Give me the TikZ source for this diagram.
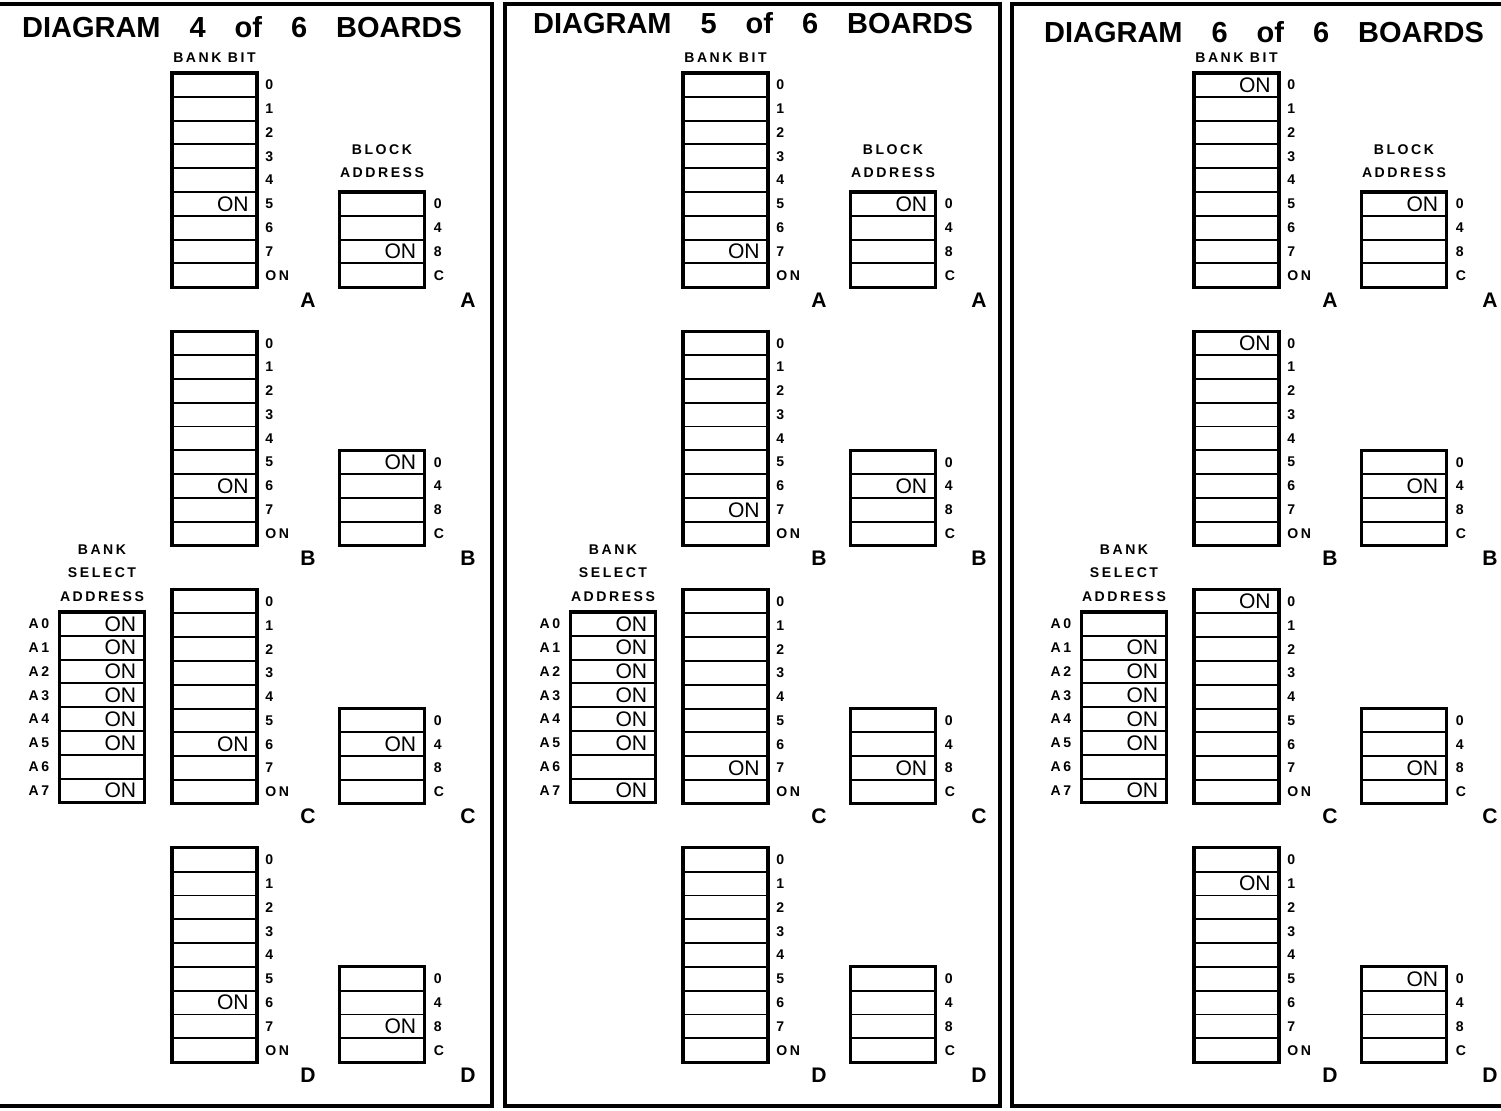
\documentclass[tikz,border=0pt]{standalone}
\usepackage{fontspec}
\setmainfont{Liberation Sans}
\newfontfamily\tagfont{Liberation Sans}[LetterSpace=18]
\usepackage{tikz}
\usetikzlibrary{positioning}

\tikzset{
  cell/.style={draw, line width=1.1pt, minimum width=17mm, minimum height=4.76mm, inner sep=0pt, outer sep=0pt},
  frame/.style={line width=1.8pt},
  panel/.style={line width=2.5pt},
  pin/.style={font=\tagfont\bfseries\fontsize{8}{8}\selectfont, inner sep=0pt},
  heading/.style={font=\tagfont\bfseries\fontsize{8}{13}\selectfont, inner sep=0pt, align=center},
  onmark/.style={anchor=east, xshift=-1.6mm, font=\fontsize{12}{12}\selectfont, inner sep=0pt},
  board/.style={font=\bfseries\fontsize{12}{12}\selectfont, inner sep=0pt},
  title/.style={font=\bfseries\fontsize{16.5}{18}\selectfont, inner sep=0pt}
}

\begin{document}
\begin{tikzpicture}[x=0.2mm, y=-0.2mm]
    \useasboundingbox (0,0) rectangle (1501,1111);
    \clip (0,0) rectangle (1501,1111);
    \fill[white] (0,0) rectangle (1501,1111);

    % panel frames
    \draw[panel] (-10,4) -- (492,4) -- (492,1106) -- (-10,1106);
    \draw[panel] (505,4) rectangle (1000,1106);
    \draw[panel] (1512,4) -- (1012,4) -- (1012,1106) -- (1512,1106);

    \foreach \p/\ty in {4/27,5/23,6/32} {
      \begin{scope}[shift={({(\p-4)*511},0)}]
        % title and headings
        \node[title] (t\p) at (242,\ty) {DIAGRAM\quad \p\quad of\quad 6\quad BOARDS};
        \node[heading] (hb\p) at (214.5,58) {BANK BIT};
        \node[heading] (hk\p) at (382,161.5) {BLOCK\\ADDRESS};
        \node[heading, font=\tagfont\bfseries\fontsize{8}{13.4}\selectfont] (hs\p) at (102,573) {BANK\\SELECT\\ADDRESS};

        % boards A to D
        \foreach \g [count=\k from 0] in {A,B,C,D} {
          \begin{scope}[shift={(0,{\k*258.3})}]
            % bank bit switch
            \foreach \lab [count=\i from 0] in {0,1,2,3,4,5,6,7,ON} {
              \node[cell] (b\p\g-\i) at (214.5,{84.9+\i*23.8}) {};
              \node[pin, right=1.6mm of b\p\g-\i] (b\p\g-\i-n) {\lab};
            }
            \draw[frame] (b\p\g-0.north west) rectangle (b\p\g-8.south east);
            % block address switch
            \foreach \lab [count=\i from 0] in {0,4,8,C} {
              \node[cell] (k\p\g-\i) at (382,{203.9+\i*23.8}) {};
              \node[pin, right=1.8mm of k\p\g-\i] (k\p\g-\i-n) {\lab};
            }
            \draw[frame] (k\p\g-0.north west) rectangle (k\p\g-3.south east);
            % board letters
            \node[board] (lb\p\g) at (308,300) {\g};
            \node[board] (lk\p\g) at (468,300) {\g};
          \end{scope}
        }

        % bank select address switch
        \foreach \lab [count=\i from 0] in {A0,A1,A2,A3,A4,A5,A6,A7} {
          \node[cell] (s\p-\i) at (102,{623.9+\i*23.8}) {};
          \node[pin, left=2mm of s\p-\i] (s\p-\i-n) {\lab};
        }
        \draw[frame] (s\p-0.north west) rectangle (s\p-7.south east);
      \end{scope}
    }

    % switches set to ON
    \foreach \c in {b4A-5,k4A-2,b4B-6,k4B-0,b4C-6,k4C-1,b4D-6,k4D-2,%
                    s4-0,s4-1,s4-2,s4-3,s4-4,s4-5,s4-7,%
                    b5A-7,k5A-0,b5B-7,k5B-1,b5C-7,k5C-2,%
                    s5-0,s5-1,s5-2,s5-3,s5-4,s5-5,s5-7,%
                    b6A-0,k6A-0,b6B-0,k6B-1,b6C-0,k6C-2,b6D-1,k6D-0,%
                    s6-1,s6-2,s6-3,s6-4,s6-5,s6-7}
      \node[onmark] (\c-on) at (\c.east) {ON};
\end{tikzpicture}
\end{document}
